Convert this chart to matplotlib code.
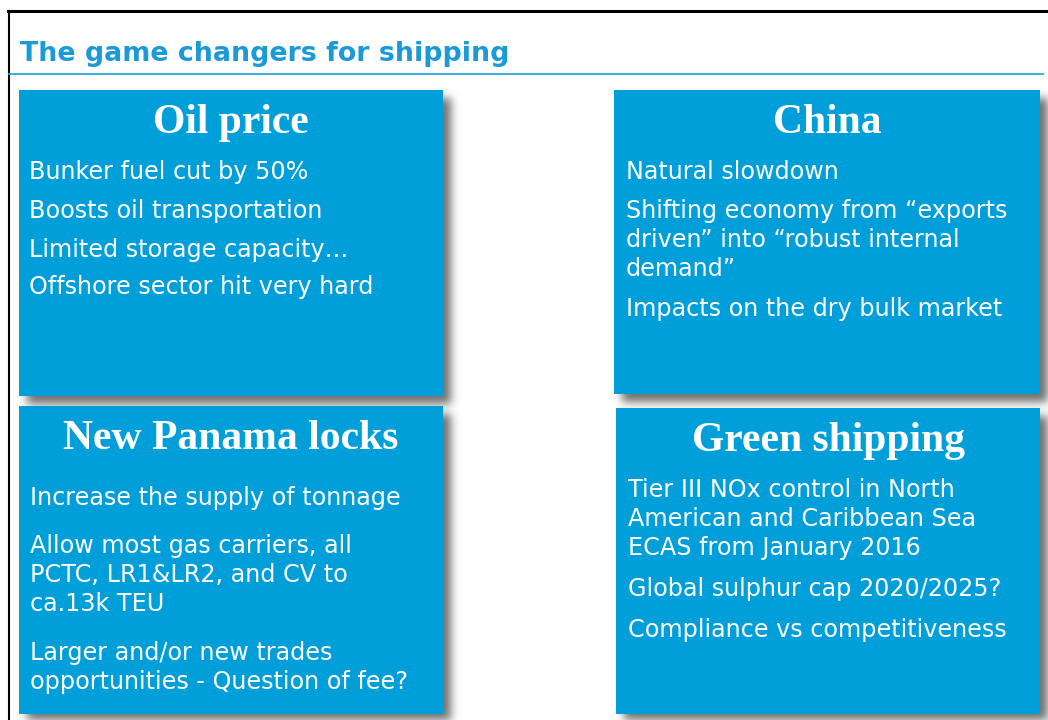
"""slide: the game changers for shipping"""

import numpy as np
import matplotlib.pyplot as plt
from matplotlib.patches import Rectangle

W, H = 1048, 720

title = "The game changers for shipping"

headings = ["Oil price", "China", "New Panama locks", "Green shipping"]

# bullet items of each box, one list of lines per item
items = [
    [["Bunker fuel cut by 50%"],
     ["Boosts oil transportation"],
     ["Limited storage capacity…"],
     ["Offshore sector hit very hard"]],
    [["Natural slowdown"],
     ["Shifting economy from “exports", "driven” into “robust internal",
      "demand”"],
     ["Impacts on the dry bulk market"]],
    [["Increase the supply of tonnage"],
     ["Allow most gas carriers, all", "PCTC, LR1&LR2, and CV to",
      "ca.13k TEU"],
     ["Larger and/or new trades", "opportunities - Question of fee?"]],
    [["Tier III NOx control in North", "American and Caribbean Sea",
      "ECAS from January 2016"],
     ["Global sulphur cap 2020/2025?"],
     ["Compliance vs competitiveness"]],
]

# layout (pixels, y down)
boxes = [(19, 90, 424, 306), (614, 90, 426, 304),
         (19, 406, 424, 308), (616, 408, 424, 306)]
head_y = [123, 123, 439, 441]
text_x = [29, 626, 30, 628]
item_y = [[172, 211, 250, 287], [172, 211, 309],
          [498, 546, 653], [490, 589, 630]]
line_step = 29

box_col = "#009fda"
title_col = "#1b9ad6"

fig = plt.figure(figsize=(W / 100, H / 100), dpi=100)
ax = fig.add_axes([0, 0, 1, 1])
ax.set_xlim(0, W)
ax.set_ylim(H, 0)
ax.axis("off")

# soft drop shadows: blurred mask
mask = np.zeros((H, W))
for x, y, w, h in boxes:
    mask[y + 8:y + h + 8, x + 8:x + w + 8] = 1.0
k = np.exp(-np.arange(-15, 16)**2 / (2 * 4.5**2))
k /= k.sum()
mask = np.apply_along_axis(lambda r: np.convolve(r, k, mode="same"), 1, mask)
mask = np.apply_along_axis(lambda c: np.convolve(c, k, mode="same"), 0, mask)
rgba = np.zeros((H, W, 4))
rgba[..., :3] = 0.3
rgba[..., 3] = mask * 0.8
ax.imshow(rgba, extent=(0, W, H, 0), zorder=1, interpolation="bilinear")

# frame and title
ax.plot([8, W], [11, 11], color="black", lw=2.2, zorder=3)
ax.plot([8.5, 8.5], [11, H], color="black", lw=1.5, zorder=3)
ax.text(20, 54, title, color=title_col, fontsize=19.4, fontweight="bold",
        family="DejaVu Sans", va="center", ha="left", zorder=3)
ax.plot([9, 1043], [74, 74], color="#29a8e0", lw=1.3, zorder=3)

for i, (x, y, w, h) in enumerate(boxes):
    ax.add_patch(Rectangle((x, y), w, h, facecolor=box_col, edgecolor="none",
                           zorder=2))
    ax.text(x + w / 2, head_y[i], headings[i], color="white", fontsize=30,
            fontweight="bold", family="Liberation Serif", ha="center",
            va="center", zorder=3)
    for lines, y0 in zip(items[i], item_y[i]):
        for j, line in enumerate(lines):
            ax.text(text_x[i], y0 + j * line_step, line, color="white",
                    fontsize=17.2, family="DejaVu Sans", ha="left",
                    va="center", zorder=3)

fig.savefig("out.png", dpi=100, facecolor="white")
